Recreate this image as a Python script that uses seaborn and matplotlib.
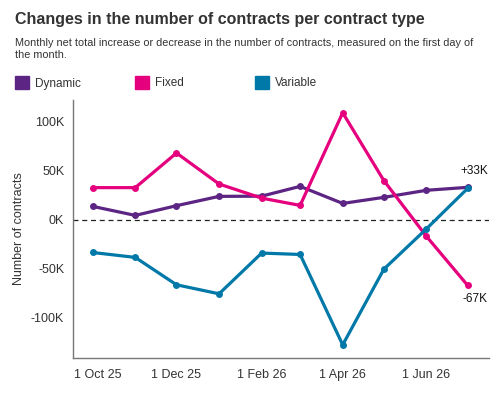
import numpy as np
import pandas as pd
import matplotlib
matplotlib.use("Agg")
import matplotlib.pyplot as plt
import matplotlib.transforms as mtransforms
from matplotlib.patches import Rectangle
import seaborn as sns

# Data (values in thousands)
months = pd.date_range("2025-10-01", "2026-07-01", freq="MS")
dynamic = [13.6, 4.4, 14.3, 23.8, 24.0, 34.0, 16.6, 22.8, 30.0, 33.0]
fixed = [32.7, 32.7, 68.0, 36.4, 22.0, 14.6, 109.0, 39.8, -17.0, -67.0]
variable = [-33.4, -38.4, -66.3, -75.5, -34.0, -35.4, -127.5, -50.3, -9.2, 32.0]

series_names = ["Dynamic", "Fixed", "Variable"]
colors = ["#5c2483", "#e5007d", "#0079a8"]
tick_dates = pd.to_datetime(["2025-10-01", "2025-12-01", "2026-02-01", "2026-04-01", "2026-06-01"])
tick_labels = ["1 Oct 25", "1 Dec 25", "1 Feb 26", "1 Apr 26", "1 Jun 26"]
yticks = [-100, -50, 0, 50, 100]
ytick_labels = ["-100K", "-50K", "0K", "50K", "100K"]
end_labels = {"Dynamic": "+33K", "Fixed": "-67K"}

df = pd.DataFrame({"month": list(months) * 3,
                   "value": dynamic + fixed + variable,
                   "type": np.repeat(series_names, len(months))})

sns.set_style("white")
plt.rcParams["font.family"] = ["Liberation Sans", "DejaVu Sans"]

fig = plt.figure(figsize=(5, 4), dpi=100)
ax = fig.add_axes([0.145, 0.106, 0.833, 0.644])

palette = dict(zip(series_names, colors))
sns.lineplot(data=df, x="month", y="value", hue="type", palette=palette,
             linewidth=2.3, marker="o", markersize=5, markeredgewidth=0,
             legend=False, ax=ax)

ax.axhline(0, color="#222222", linestyle=(0, (4, 3)), linewidth=0.9, zorder=1)

ax.set_xlim(months[0] - pd.Timedelta(days=14.7), months[-1] + pd.Timedelta(days=15.5))
ax.set_ylim(-140.5, 122)
ax.set_xticks(tick_dates)
ax.set_xticklabels(tick_labels)
ax.set_yticks(yticks)
ax.set_yticklabels(ytick_labels)
ax.tick_params(axis="both", length=0, labelsize=9, colors="#333333")
ax.tick_params(axis="x", pad=8)
ax.tick_params(axis="y", pad=6)
# the first date label sits a bit to the right of its point
first = ax.get_xticklabels()[0]
first.set_transform(first.get_transform() + mtransforms.ScaledTranslation(5 / 100, 0, fig.dpi_scale_trans))

ax.set_xlabel("")
ax.set_ylabel("Number of contracts", fontsize=9, color="#333333", labelpad=4)
for side in ["top", "right"]:
    ax.spines[side].set_visible(False)
for side in ["left", "bottom"]:
    ax.spines[side].set_color("#777777")
    ax.spines[side].set_linewidth(1)

# end-of-line labels
for name, vals in zip(series_names, [dynamic, fixed, variable]):
    if name in end_labels:
        dy = 12 if vals[-1] > 0 else -10
        ax.annotate(end_labels[name], (months[-1], vals[-1]), xytext=(5, dy),
                    textcoords="offset points", ha="center", va="center",
                    fontsize=8.5, color="#111111")

# title and subtitle
fig.text(15 / 500, 1 - 24 / 400, "Changes in the number of contracts per contract type",
         fontsize=11.5, fontweight="bold", color="#333333", va="baseline")
fig.text(15 / 500, 1 - 38 / 400,
         "Monthly net total increase or decrease in the number of contracts, measured on the first day of\nthe month.",
         fontsize=7.8, color="#333333", va="top", linespacing=1.2)

# legend: coloured squares with names
for i, (name, col) in enumerate(zip(series_names, colors)):
    x0 = (15 + 120 * i) / 500
    fig.patches.append(Rectangle((x0, 1 - 88.5 / 400), 14 / 500, 13 / 400,
                                 transform=fig.transFigure, color=col))
    fig.text(x0 + 20 / 500, 1 - 86.5 / 400, name, fontsize=8.5,
             color="#333333", va="baseline")

fig.savefig("out.png", dpi=100)
